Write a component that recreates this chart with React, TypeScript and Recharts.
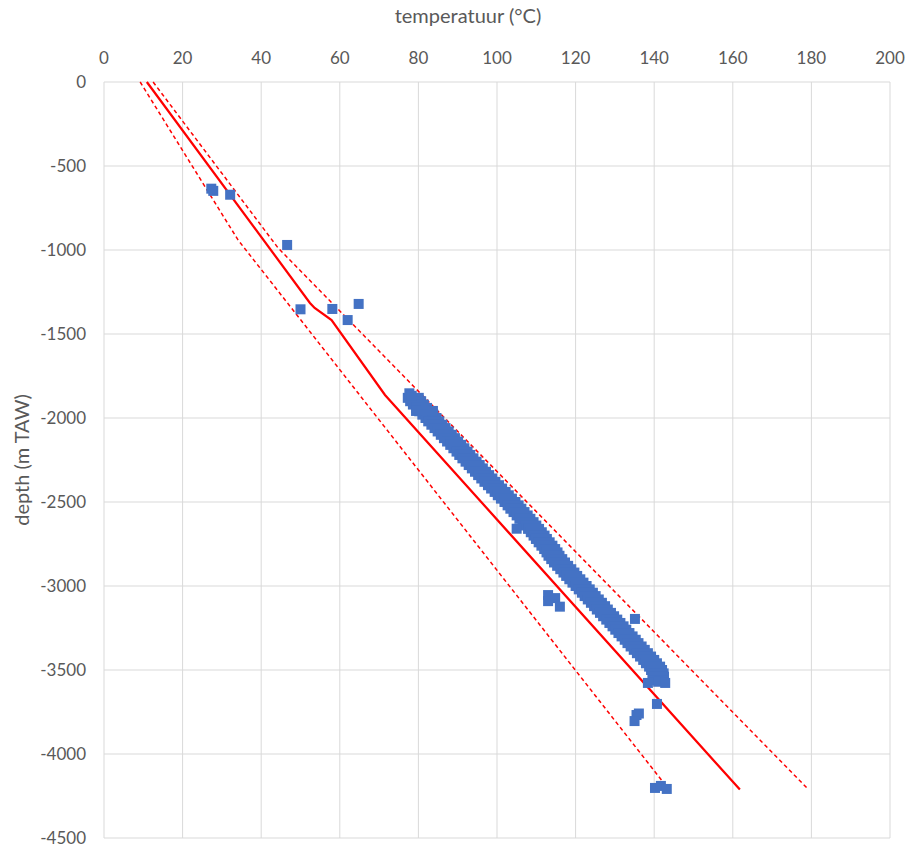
import React from 'react';
import { ScatterChart, Scatter, XAxis, YAxis, CartesianGrid } from 'recharts';

// Axis ticks
const tempTicks = [0, 20, 40, 60, 80, 100, 120, 140, 160, 180, 200];
const depthTicks = [0, -500, -1000, -1500, -2000, -2500, -3000, -3500, -4000, -4500];

// Red reference profile (solid) and its bounds (dashed)
const meanProfileT = [10.9, 52.4, 53.6, 57.9, 71.5, 161.8];
const meanProfileD = [0, -1315, -1345, -1417, -1863, -4212];
const warmBoundT = [12.5, 44.3, 179.2];
const warmBoundD = [0, -988, -4210];
const coolBoundT = [9.2, 34.1, 143.7];
const coolBoundD = [0, -940, -4210];

// Individual measurements
const sampleT = [27.3, 27.8, 32.1, 46.6, 50.0, 58.1, 62.0, 64.8, 77.7, 78.3, 79.4, 83.7, 105.0,
  113.0, 113.0, 114.8, 116.0, 135.1, 138.4, 141.0, 142.8, 140.7, 135.5, 136.1, 135.0, 140.2, 141.7, 143.2];
const sampleD = [-635, -648, -671, -970, -1353, -1351, -1417, -1321, -1853, -1868, -1958, -1958, -2659,
  -3054, -3090, -3072, -3123, -3196, -3577, -3570, -3577, -3702, -3768, -3759, -3804, -4202, -4190, -4208];

// Continuous temperature log (dense band): depth and mid-band temperature
const logD = [-1880, -1900, -1920, -1940, -1960, -1980, -2000, -2020, -2040, -2060, -2080,
  -2100, -2120, -2140, -2160, -2180, -2200, -2220, -2240, -2260, -2280, -2300, -2320, -2340, -2360,
  -2380, -2400, -2420, -2440, -2460, -2480, -2500, -2520, -2540, -2560, -2580, -2600, -2620, -2640,
  -2660, -2680, -2700, -2720, -2740, -2760, -2780, -2800, -2820, -2840, -2860, -2880, -2900, -2920,
  -2940, -2960, -2980, -3000, -3020, -3040, -3060, -3080, -3100, -3120, -3140, -3160, -3180, -3200,
  -3220, -3240, -3260, -3280, -3300, -3320, -3340, -3360, -3380, -3400, -3420, -3440, -3460, -3480,
  -3500, -3520, -3540, -3560];
const logT = [78.7, 79.3, 80.0, 80.8, 81.6, 82.4, 83.2, 83.9, 84.7, 85.5, 86.3,
  87.1, 87.9, 88.7, 89.5, 90.3, 91.1, 91.8, 92.6, 93.4, 94.2, 95.0, 95.8, 96.6, 97.4,
  98.2, 99.1, 99.9, 100.8, 101.6, 102.4, 103.3, 104.1, 104.8, 105.6, 106.4, 107.1, 107.9, 108.6,
  109.3, 110.0, 110.7, 111.3, 112.0, 112.7, 113.4, 114.0, 114.5, 115.2, 115.9, 116.7, 117.5, 118.3,
  119.0, 119.8, 120.6, 121.4, 122.2, 123.0, 123.7, 124.5, 125.3, 126.1, 126.8, 127.6, 128.4, 129.2,
  130.0, 130.8, 131.5, 132.3, 133.1, 133.9, 134.6, 135.4, 136.2, 137.0, 137.8, 138.6, 139.3, 140.1,
  140.6, 141.0, 141.1, 141.0];

const toPts = (ts: number[], ds: number[]) => ts.map((t, i) => ({ t, d: ds[i] }));

const meanProfile = toPts(meanProfileT, meanProfileD);
const warmBound = toPts(warmBoundT, warmBoundD);
const coolBound = toPts(coolBoundT, coolBoundD);
const samples = toPts(sampleT, sampleD);
const logBand = toPts(logT, logD);

const BLUE = '#4472C4';
const Square = (props: any) => {
  const { cx, cy } = props;
  if (cx == null || cy == null) return <g />;
  return <rect x={cx - 5} y={cy - 5} width={10} height={10} fill={BLUE} />;
};
// overlapping squares of the dense log, spread across the band width
const BandMark = (props: any) => {
  const { cx, cy } = props;
  if (cx == null || cy == null) return <g />;
  return <rect x={cx - 10.5} y={cy - 5} width={21} height={10} fill={BLUE} />;
};
const NoShape = () => <g />;

const FONT = 'Lato, "Open Sans", sans-serif';
const GREY = '#595959';

export default function App() {
  return (
    <div style={{ position: 'absolute', left: 0, top: 0, width: 907, height: 850, background: '#fff' }}>
      <ScatterChart width={907} height={850} margin={{ top: 0, right: 17, bottom: 12, left: 0 }}>
        <CartesianGrid stroke="#d9d9d9" strokeWidth={1} />
        <XAxis
          type="number"
          dataKey="t"
          orientation="top"
          domain={[0, 200]}
          ticks={tempTicks}
          height={82}
          axisLine={false}
          tickLine={false}
          tickSize={0}
          tickMargin={18}
          tick={{ fill: GREY, fontSize: 17, fontFamily: FONT }}
          label={{ value: 'temperatuur (°C)', position: 'insideTop', offset: 9, dx: -29, fill: GREY, fontSize: 20, fontFamily: FONT }}
        />
        <YAxis
          type="number"
          dataKey="d"
          domain={[-4500, 0]}
          ticks={depthTicks}
          width={104}
          axisLine={false}
          tickLine={false}
          tickSize={0}
          tickMargin={18}
          tick={{ fill: GREY, fontSize: 17, fontFamily: FONT }}
          label={{ value: 'depth (m TAW)', angle: -90, position: 'insideLeft', offset: 22, fill: GREY, fontSize: 20, fontFamily: FONT, style: { textAnchor: 'middle' } }}
        />
        <Scatter data={coolBound} line={{ stroke: '#FF0000', strokeWidth: 1.5, strokeDasharray: '4 3' }} shape={NoShape} legendType="none" isAnimationActive={false} />
        <Scatter data={warmBound} line={{ stroke: '#FF0000', strokeWidth: 1.5, strokeDasharray: '4 3' }} shape={NoShape} legendType="none" isAnimationActive={false} />
        <Scatter data={meanProfile} line={{ stroke: '#FF0000', strokeWidth: 2.25 }} shape={NoShape} legendType="none" isAnimationActive={false} />
        <Scatter data={logBand} shape={BandMark} legendType="none" isAnimationActive={false} />
        <Scatter data={samples} shape={Square} legendType="none" isAnimationActive={false} />
      </ScatterChart>
    </div>
  );
}
